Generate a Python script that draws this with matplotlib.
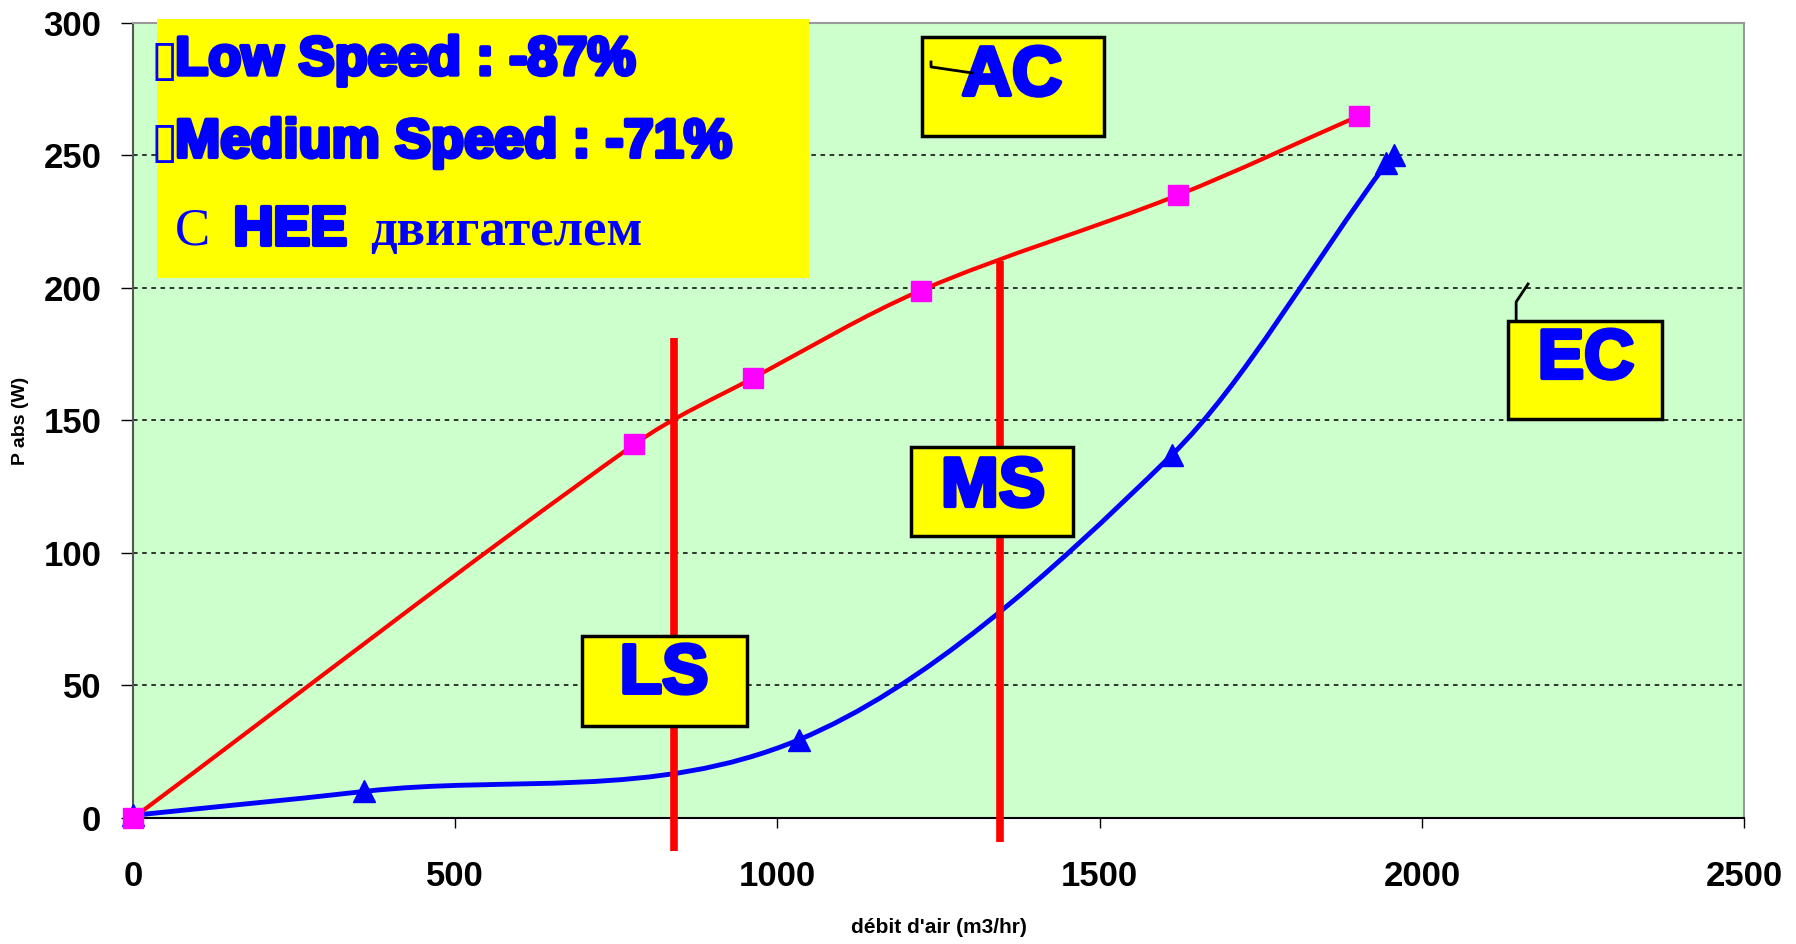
import numpy as np
import matplotlib.pyplot as plt
from matplotlib.path import Path
from matplotlib.patches import PathPatch, Rectangle
import matplotlib.patheffects as pe

# values
ac_debit = [0, 778, 962, 1222, 1621, 1903]
ac_power = [0, 141, 166, 199, 235, 265]
ec_debit = [0, 358, 1033, 1612, 1945, 1957]
ec_power = [1, 10, 29.5, 137, 247, 250]
ls_debit = 840
ms_debit = 1346
ls_range = [-12.5, 181]
ms_range = [-9, 210]
x_ticks = [0, 500, 1000, 1500, 2000, 2500]
y_ticks = [0, 50, 100, 150, 200, 250, 300]

BLUE = '#0000FF'
RED = '#FF0000'
YELLOW = '#FFFF00'
heavy = [pe.withStroke(linewidth=3, foreground=BLUE)]


def smooth_path(xs, ys):
    # smoothed line like excel: cubic hermite pieces drawn as bezier curves
    x = np.asarray(xs, float)
    y = np.asarray(ys, float)
    n = len(x)
    m = np.zeros(n)
    m[0] = (y[1] - y[0]) / (x[1] - x[0])
    m[-1] = (y[-1] - y[-2]) / (x[-1] - x[-2])
    for i in range(1, n - 1):
        m[i] = (y[i + 1] - y[i - 1]) / (x[i + 1] - x[i - 1])
    verts = [(x[0], y[0])]
    codes = [Path.MOVETO]
    for i in range(n - 1):
        h = (x[i + 1] - x[i]) / 3
        verts += [(x[i] + h, y[i] + h * m[i]), (x[i + 1] - h, y[i + 1] - h * m[i + 1]),
                  (x[i + 1], y[i + 1])]
        codes += [Path.CURVE4] * 3
    return Path(verts, codes)


fig = plt.figure(figsize=(17.96, 9.44), dpi=100)
ax = fig.add_axes([0.0741, 0.1335, 0.897, 0.8422])
ax.set_facecolor('#CCFFCC')

ax.set_xlim(0, 2500)
ax.set_ylim(0, 300)
ax.set_xticks(x_ticks)
ax.set_yticks(y_ticks)
ax.yaxis.grid(True, color='black', linestyle=(0, (3, 3)), linewidth=1.1)
ax.set_axisbelow(True)

for s in ['top', 'right']:
    ax.spines[s].set_color('#999999')
    ax.spines[s].set_linewidth(1.5)
ax.spines['left'].set_color('#555555')
ax.spines['bottom'].set_color('black')
ax.spines['left'].set_linewidth(1.5)
ax.spines['bottom'].set_linewidth(1.5)

ax.tick_params(axis='y', length=9, width=1, pad=14)
ax.tick_params(axis='x', length=7, width=1, pad=23)
for lab in ax.get_xticklabels() + ax.get_yticklabels():
    lab.set_fontfamily('Liberation Sans')
    lab.set_fontweight('bold')
    lab.set_fontsize(25)

ax.set_xlabel("débit d'air (m3/hr)", fontfamily='Liberation Sans', fontweight='bold',
              fontsize=15, labelpad=18)
ax.set_ylabel('P abs (W)', fontfamily='Liberation Sans', fontweight='bold', fontsize=14,
              labelpad=10)

# curves
ax.add_patch(PathPatch(smooth_path(ac_debit, ac_power), facecolor='none', edgecolor=RED,
                       linewidth=3, zorder=3))
ax.add_patch(PathPatch(smooth_path(ec_debit, ec_power), facecolor='none', edgecolor=BLUE,
                       linewidth=3.5, zorder=3))
ax.plot(ec_debit, ec_power, linestyle='none', marker='^', markersize=16, color=BLUE,
        zorder=4, clip_on=False)
ax.plot(ac_debit, ac_power, linestyle='none', marker='s', markersize=15, color='#FF00FF',
        zorder=5, clip_on=False)

# speed lines
ax.plot([ls_debit, ls_debit], ls_range, color=RED, linewidth=5.5, zorder=6, clip_on=False,
        solid_capstyle='butt')
ax.plot([ms_debit, ms_debit], ms_range, color=RED, linewidth=5.5, zorder=6, clip_on=False,
        solid_capstyle='butt')

# top-left info box
tr = ax.transAxes
ax.add_patch(Rectangle((0.0149, 0.679), 0.4047, 0.326, transform=tr, facecolor=YELLOW,
                       edgecolor='none', zorder=7, clip_on=False))
ax.text(0.0106, 0.935, '\u25af', transform=tr, color=BLUE, fontsize=36,
        fontfamily='DejaVu Sans', va='baseline', zorder=8)
ax.text(0.0106, 0.8314, '\u25af', transform=tr, color=BLUE, fontsize=36,
        fontfamily='DejaVu Sans', va='baseline', zorder=8)
ax.text(0.0261, 0.935, 'Low Speed : -87%', transform=tr, color=BLUE, fontsize=39,
        fontfamily='Liberation Sans', fontweight='bold', va='baseline', zorder=8,
        path_effects=heavy)
ax.text(0.0261, 0.8314, 'Medium Speed : -71%', transform=tr, color=BLUE, fontsize=39,
        fontfamily='Liberation Sans', fontweight='bold', va='baseline', zorder=8,
        path_effects=heavy)
ax.text(0.0261, 0.7208, 'С', transform=tr, color=BLUE, fontsize=38,
        fontfamily='Liberation Serif', va='baseline', zorder=8)
ax.text(0.0621, 0.7208, 'HEE', transform=tr, color=BLUE, fontsize=40,
        fontfamily='Liberation Sans', fontweight='bold', va='baseline', zorder=8,
        path_effects=heavy)
ax.text(0.1471, 0.7208, 'двигателем', transform=tr, color=BLUE, fontsize=38,
        fontfamily='Liberation Serif', fontweight='bold', va='baseline', zorder=8)

# curve / speed labels
boxes = [
    ('AC', (0.4898, 0.8579, 0.1129, 0.1245), (0.5456, 0.932)),
    ('EC', (0.8535, 0.5019, 0.0956, 0.1233), (0.9019, 0.576)),
    ('MS', (0.4829, 0.3547, 0.1006, 0.1120), (0.5338, 0.415)),
    ('LS', (0.2787, 0.1157, 0.1024, 0.1132), (0.3296, 0.180)),
]
for name, (bx, by, bw, bh), (tx, ty) in boxes:
    ax.add_patch(Rectangle((bx, by), bw, bh, transform=tr, facecolor=YELLOW,
                           edgecolor='black', linewidth=2.5, zorder=9))
    ax.text(tx, ty, name, transform=tr, color=BLUE, fontsize=50,
            fontfamily='Liberation Sans', fontweight='bold', ha='center', va='center',
            zorder=10, path_effects=heavy)

# little leader lines
ax.plot([0.4953, 0.4953, 0.5208], [0.9509, 0.9447, 0.9371], transform=tr, color='black',
        linewidth=2, zorder=10)
ax.plot([0.8585, 0.8585, 0.8659], [0.6252, 0.6491, 0.6717], transform=tr, color='black',
        linewidth=2, zorder=8)

fig.savefig('out.png', dpi=100)
